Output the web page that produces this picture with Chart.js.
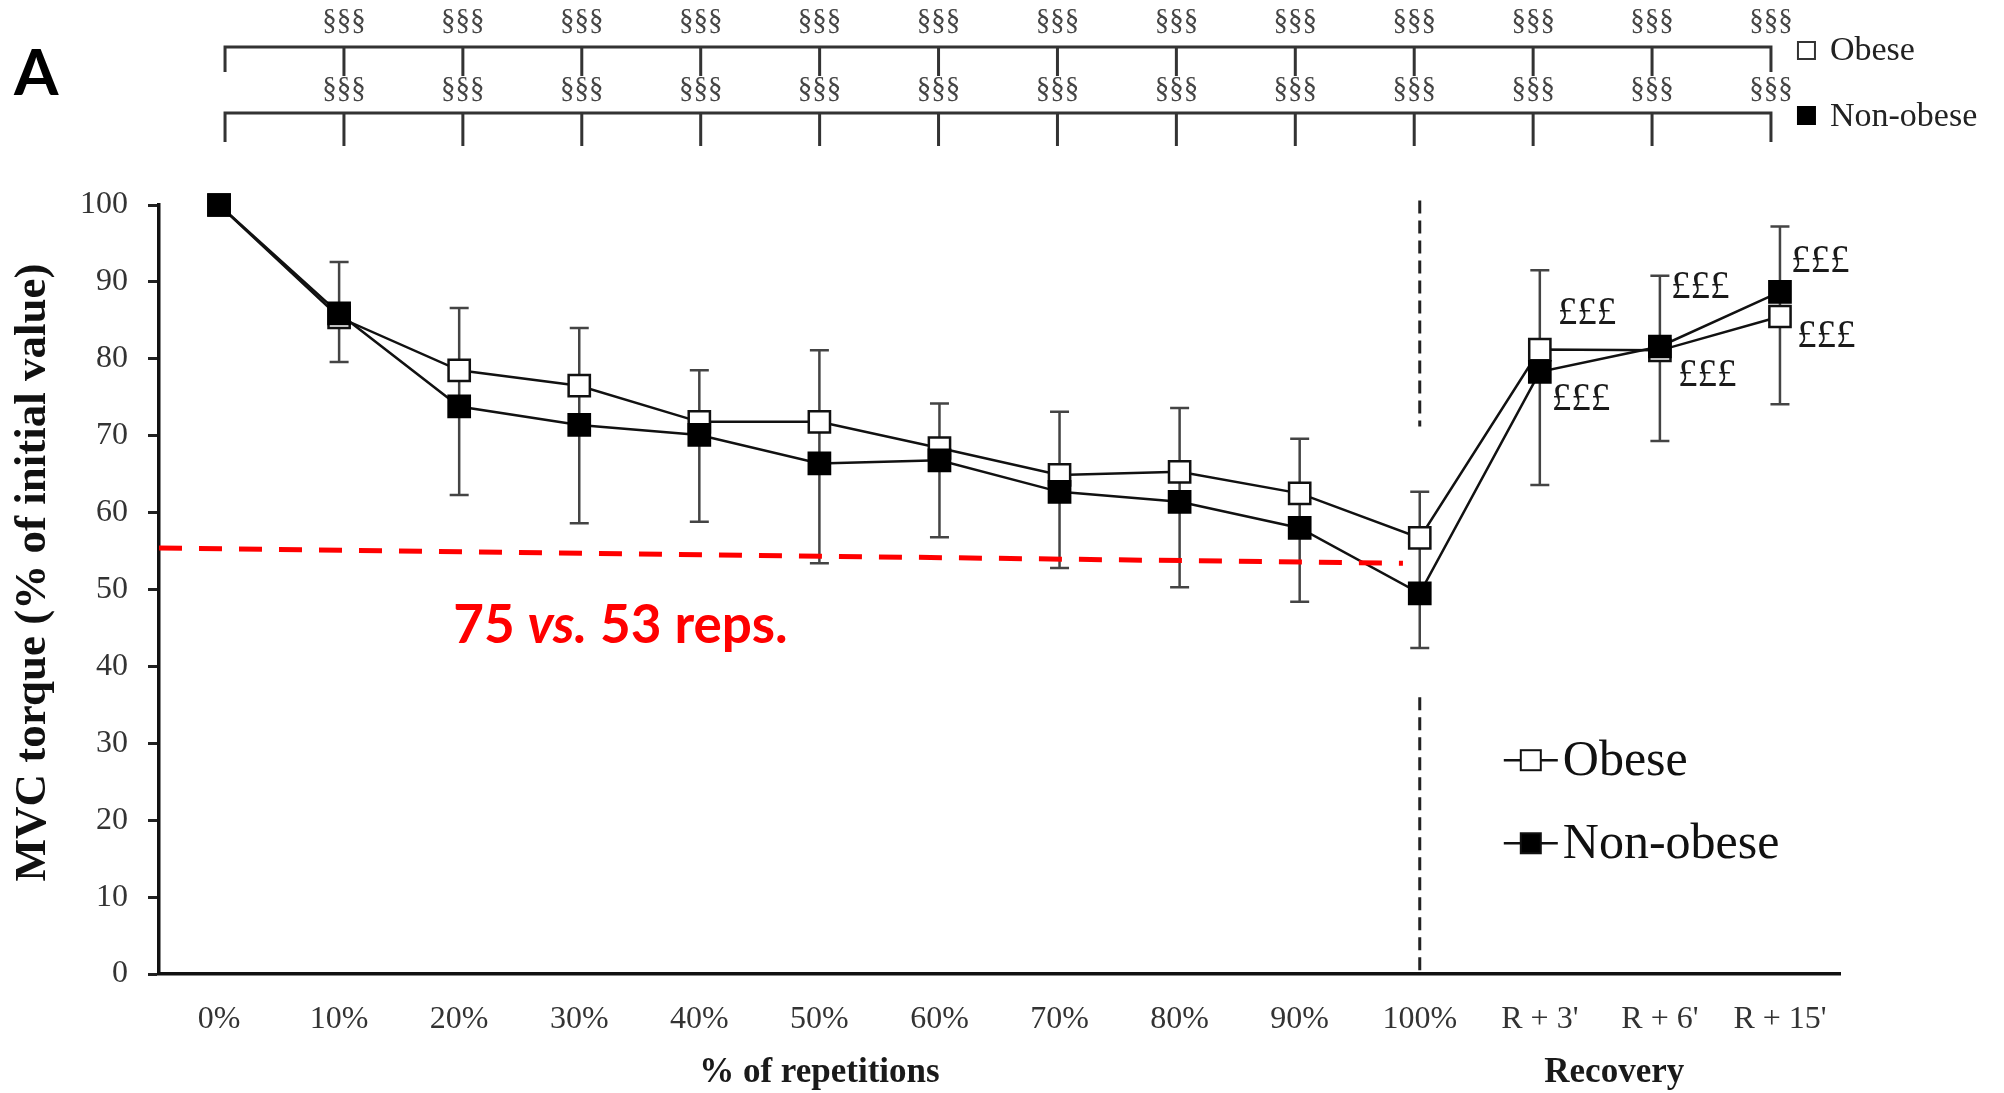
<!DOCTYPE html>
<html>
<head>
<meta charset="utf-8">
<style>
  html, body { margin: 0; padding: 0; background: #ffffff; }
  #wrap { width: 2004px; height: 1093px; position: relative; }
  canvas { display: block; }
</style>
<script src="https://cdn.jsdelivr.net/npm/chart.js@4.4.1/dist/chart.umd.min.js"></script>
</head>
<body>
<div id="wrap"><canvas id="c" width="2004" height="1093"></canvas></div>
<script>
// ---------------- data ----------------
const categories = ['0%', '10%', '20%', '30%', '40%', '50%', '60%', '70%', '80%', '90%', '100%', "R + 3'", "R + 6'", "R + 15'"];
const obese    = [100, 85.4, 78.5, 76.5, 71.8, 71.8, 68.4, 64.9, 65.3, 62.5, 56.7, 81.2, 81.1, 85.5];
const nonObese = [100, 85.9, 73.8, 71.4, 70.1, 66.4, 66.8, 62.7, 61.4, 58.0, 49.5, 78.3, 81.6, 88.7];
const errHigh  = [null, 92.6, 86.6, 84.0, 78.5, 81.1, 74.2, 73.1, 73.6, 69.6, 62.7, 91.5, 90.8, 97.2];
const errLow   = [null, 79.6, 62.3, 58.6, 58.8, 53.4, 56.8, 52.8, 50.3, 48.4, 42.4, 63.6, 69.3, 74.1];
const yTicks   = [0, 10, 20, 30, 40, 50, 60, 70, 80, 90, 100];
const seriesNames = ['Obese', 'Non-obese'];
const sigText = '§§§';
const recoveryText = '£££';
const recoveryIdx = [11, 12, 13];
const refLineIdx = [-0.5, 9.86];
const refLineVal = [55.4, 53.4];
const refText = ['75 ', 'vs.', ' 53 reps.'];
const dividerIdx = 10;
const dividerSegments = [[100.6, 71.2], [36, 0]];
const xTitles = ['% of repetitions', 'Recovery'];
const xTitleIdx = [5, 11.62];
const yTitle = 'MVC torque (% of initial value)';
const panelLetter = 'A';

// ---------------- overlay plugin ----------------
const overlay = {
  id: 'overlay',
  beforeDatasetsDraw(chart) {
    const { ctx, scales: { x, y } } = chart;
    ctx.save();
    // vertical dashed divider at 100%
    const dx = x.getPixelForValue(dividerIdx);
    ctx.strokeStyle = '#222';
    ctx.lineWidth = 3;
    ctx.setLineDash([13, 7]);
    dividerSegments.forEach(([a, b]) => {
      ctx.beginPath();
      ctx.moveTo(dx, y.getPixelForValue(a));
      ctx.lineTo(dx, y.getPixelForValue(b));
      ctx.stroke();
    });
    ctx.setLineDash([]);
    // error bars
    ctx.strokeStyle = '#444';
    ctx.lineWidth = 2.5;
    for (let i = 0; i < categories.length; i++) {
      if (errHigh[i] == null) continue;
      const px = x.getPixelForValue(i);
      const t = y.getPixelForValue(errHigh[i]);
      const b = y.getPixelForValue(errLow[i]);
      ctx.beginPath();
      ctx.moveTo(px, t); ctx.lineTo(px, b);
      ctx.moveTo(px - 9.5, t); ctx.lineTo(px + 9.5, t);
      ctx.moveTo(px - 9.5, b); ctx.lineTo(px + 9.5, b);
      ctx.stroke();
    }
    ctx.restore();
  },
  afterDatasetsDraw(chart) {
    const { ctx, scales: { x, y }, chartArea } = chart;
    ctx.save();

    // red dashed reference line
    ctx.strokeStyle = '#ff0000';
    ctx.lineWidth = 5;
    ctx.setLineDash([23, 17]);
    ctx.beginPath();
    ctx.moveTo(Math.max(chartArea.left, x.getPixelForValue(refLineIdx[0])), y.getPixelForValue(refLineVal[0]));
    ctx.lineTo(x.getPixelForValue(refLineIdx[1]), y.getPixelForValue(refLineVal[1]));
    ctx.stroke();
    ctx.setLineDash([]);

    // red text
    ctx.fillStyle = '#ff0000';
    ctx.textBaseline = 'alphabetic';
    ctx.textAlign = 'left';
    let tx = x.getPixelForValue(2) - 6;
    const ty = y.getPixelForValue(43);
    const fonts = ['bold 53px Lato', 'italic bold 53px Lato', 'bold 53px Lato'];
    refText.forEach((s, k) => {
      ctx.font = fonts[k];
      ctx.fillText(s, tx, ty);
      tx += ctx.measureText(s).width;
    });

    // £££ labels in recovery
    ctx.fillStyle = '#1a1a1a';
    ctx.font = '39px "Liberation Serif"';
    ctx.textBaseline = 'middle';
    const offsUp = [[18, -36], [11, -59], [11, -30]];
    const offsDn = [[12, 28], [18, 25], [17, 20]];
    recoveryIdx.forEach((i, k) => {
      const px = x.getPixelForValue(i);
      const hi = y.getPixelForValue(Math.max(obese[i], nonObese[i]));
      const lo = y.getPixelForValue(Math.min(obese[i], nonObese[i]));
      ctx.fillText(recoveryText, px + offsUp[k][0], hi + offsUp[k][1]);
      ctx.fillText(recoveryText, px + offsDn[k][0], lo + offsDn[k][1]);
    });

    // significance brackets on top
    const n = categories.length - 1;
    const b0 = x.getPixelForValue(0) + 6;
    const b1 = x.getPixelForValue(n) - 9;
    const bx = i => b0 + i * (b1 - b0) / n;
    const rows = [
      { line: 47, endDrop: 72, tickDrop: 76, label: 21 },
      { line: 113, endDrop: 142, tickDrop: 146, label: 89 }
    ];
    ctx.strokeStyle = '#333';
    ctx.lineWidth = 3;
    ctx.fillStyle = '#444';
    ctx.font = '29px "Liberation Serif"';
    ctx.textAlign = 'center';
    ctx.textBaseline = 'middle';
    rows.forEach(r => {
      ctx.beginPath();
      ctx.moveTo(bx(0), r.endDrop);
      ctx.lineTo(bx(0), r.line);
      ctx.lineTo(bx(n), r.line);
      ctx.lineTo(bx(n), r.endDrop);
      for (let i = 1; i < n; i++) {
        ctx.moveTo(bx(i), r.line);
        ctx.lineTo(bx(i), r.tickDrop);
      }
      ctx.stroke();
      for (let i = 1; i <= n; i++) {
        ctx.fillText(sigText, bx(i), r.label);
      }
    });

    // top-right legend
    const lgx = bx(n) + 27;
    const lgY = [50, 116];
    ctx.textAlign = 'left';
    ctx.font = '34px "Liberation Serif"';
    ctx.fillStyle = '#222';
    lgY.forEach((yy, k) => {
      if (k === 0) {
        ctx.fillStyle = '#fff';
        ctx.fillRect(lgx, yy - 8, 17, 17);
        ctx.strokeStyle = '#333';
        ctx.lineWidth = 2;
        ctx.strokeRect(lgx, yy - 8, 17, 17);
      } else {
        ctx.fillStyle = '#000';
        ctx.fillRect(lgx - 1, yy - 10, 19, 19);
      }
      ctx.fillStyle = '#222';
      ctx.fillText(seriesNames[k], lgx + 32, yy + 1);
    });

    // inside legend
    const ilx = x.getPixelForValue(10.7);
    const ilY = [y.getPixelForValue(27.8), y.getPixelForValue(17.0)];
    ctx.font = '50px "Liberation Serif"';
    ilY.forEach((yy, k) => {
      ctx.strokeStyle = '#111';
      ctx.lineWidth = 2.5;
      ctx.beginPath();
      ctx.moveTo(ilx, yy); ctx.lineTo(ilx + 54, yy);
      ctx.stroke();
      ctx.fillStyle = k === 0 ? '#fff' : '#000';
      ctx.fillRect(ilx + 17, yy - 10, 20, 20);
      ctx.strokeStyle = '#111';
      ctx.lineWidth = 2;
      ctx.strokeRect(ilx + 17, yy - 10, 20, 20);
      ctx.fillStyle = '#111';
      ctx.textBaseline = 'middle';
      ctx.fillText(seriesNames[k], ilx + 59, yy + 2);
    });

    // panel letter
    ctx.fillStyle = '#000';
    ctx.font = 'bold 64px Lato';
    ctx.textBaseline = 'alphabetic';
    ctx.textAlign = 'left';
    ctx.fillText(panelLetter, 14, 95);

    // y title
    ctx.save();
    ctx.translate(45, (chartArea.top + chartArea.bottom) / 2 - 17);
    ctx.rotate(-Math.PI / 2);
    ctx.font = 'bold 45px "Liberation Serif"';
    ctx.fillStyle = '#111';
    ctx.textAlign = 'center';
    ctx.textBaseline = 'alphabetic';
    ctx.fillText(yTitle, 0, 0);
    ctx.restore();

    // x titles
    ctx.font = 'bold 35px "Liberation Serif"';
    ctx.fillStyle = '#1a1a1a';
    ctx.textAlign = 'center';
    ctx.textBaseline = 'middle';
    xTitles.forEach((t, k) => {
      ctx.fillText(t, x.getPixelForValue(xTitleIdx[k]), 1073);
    });

    ctx.restore();
  }
};

// ---------------- chart ----------------
new Chart(document.getElementById('c'), {
  type: 'line',
  data: {
    labels: categories,
    datasets: [
      {
        label: seriesNames[0],
        data: obese,
        order: 1,
        clip: false,
        borderColor: '#111',
        borderWidth: 2.5,
        pointStyle: 'rect',
        pointRadius: 15,
        pointBackgroundColor: '#ffffff',
        pointBorderColor: '#111',
        pointBorderWidth: 2.5,
        tension: 0,
        fill: false
      },
      {
        label: seriesNames[1],
        data: nonObese,
        order: 0,
        clip: false,
        borderColor: '#111',
        borderWidth: 2.5,
        pointStyle: 'rect',
        pointRadius: 15,
        pointBackgroundColor: '#000000',
        pointBorderColor: '#000',
        pointBorderWidth: 2.5,
        tension: 0,
        fill: false
      }
    ]
  },
  options: {
    responsive: false,
    devicePixelRatio: 1,
    animation: false,
    events: [],
    layout: { padding: { left: 0, top: 205, right: 164, bottom: 0 } },
    plugins: {
      legend: { display: false },
      tooltip: { enabled: false },
      title: { display: false }
    },
    scales: {
      x: {
        type: 'category',
        offset: true,
        grid: { display: false },
        border: { display: true, color: '#111', width: 3.5 },
        ticks: {
          color: '#333',
          font: { family: '"Liberation Serif"', size: 32 },
          padding: 18,
          maxRotation: 0,
          autoSkip: false
        },
        afterFit(scale) { scale.height = 119; }
      },
      y: {
        min: 0,
        max: 100,
        afterBuildTicks(scale) { scale.ticks = yTicks.map(v => ({ value: v })); },
        grid: {
          display: true,
          drawOnChartArea: false,
          drawTicks: true,
          tickLength: 11,
          tickColor: '#222',
          tickWidth: 3
        },
        border: { display: true, color: '#111', width: 3.5 },
        ticks: {
          color: '#333',
          font: { family: '"Liberation Serif"', size: 32 },
          padding: 20
        },
        afterFit(scale) { scale.width = 159; }
      }
    }
  },
  plugins: [overlay]
});
</script>
</body>
</html>
